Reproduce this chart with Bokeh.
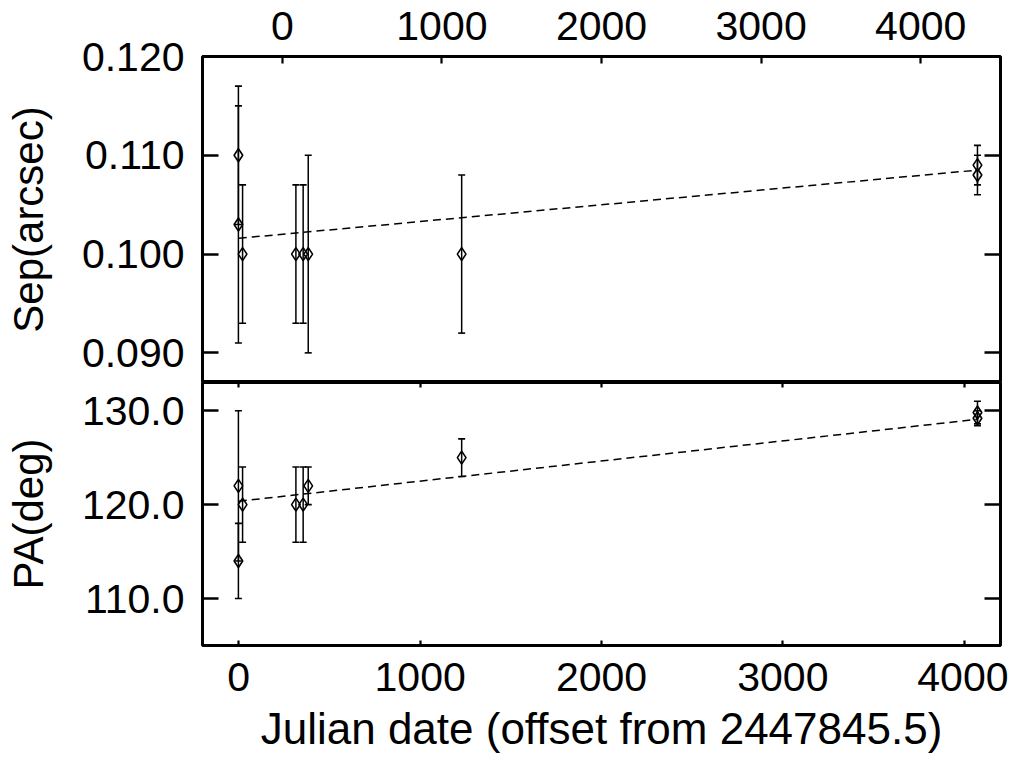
from bokeh.plotting import figure
from bokeh.models import (Range1d, LinearAxis, FixedTicker, Whisker, TeeHead,
                          ColumnDataSource, NumeralTickFormatter)
from bokeh.layouts import column
from bokeh.embed import file_html
from bokeh.resources import INLINE

# ---------------- data ----------------
jd = [-2, -2, 21, 315, 355, 383, 1229, 4073, 4073]          # days from 2447845.5
sep = [0.110, 0.103, 0.100, 0.100, 0.100, 0.100, 0.100, 0.109, 0.108]
sep_err = [0.007, 0.012, 0.007, 0.007, 0.007, 0.010, 0.008, 0.002, 0.002]
pa = [122.0, 114.0, 120.0, 120.0, 120.0, 122.0, 125.0, 129.8, 129.2]
pa_err = [8.0, 4.0, 4.0, 4.0, 4.0, 2.0, 2.0, 1.2, 0.8]

fit_x = [0, 4073]
sep_fit = [0.1016, 0.1085]
pa_fit = [120.36, 129.08]

x_ticks = [0, 1000, 2000, 3000, 4000]
top_ticks = [0, 1000, 2000, 3000, 4000]
sep_ticks = [0.090, 0.100, 0.110, 0.120]
pa_ticks = [110, 120, 130]

x_label = "Julian date (offset from 2447845.5)"
sep_label = "Sep(arcsec)"
pa_label = "PA(deg)"

# ---------------- style ----------------
FONT = "Liberation Sans"
TICK_FS = "41px"
XLAB_FS = "44px"
YLAB_FS = "42px"

src = ColumnDataSource(dict(
    x=jd, sep=sep, pa=pa,
    sep_lo=[s - e for s, e in zip(sep, sep_err)],
    sep_hi=[s + e for s, e in zip(sep, sep_err)],
    pa_lo=[s - e for s, e in zip(pa, pa_err)],
    pa_hi=[s + e for s, e in zip(pa, pa_err)],
))

XMIN, XMAX = -200, 4200
xr = Range1d(XMIN, XMAX)


def base_fig(yr, fh, mbt, mbb):
    p = figure(frame_width=798, frame_height=fh, x_range=xr, y_range=yr,
               min_border_left=202, min_border_right=8,
               min_border_top=mbt, min_border_bottom=mbb,
               x_axis_location=None, y_axis_location=None,
               output_backend="svg", toolbar_location=None)
    p.grid.visible = False
    p.outline_line_color = "black"
    p.outline_line_width = 3
    p.background_fill_color = "white"
    p.border_fill_color = "white"
    return p


def style_axis(ax, tick_in, tick_w):
    ax.axis_line_color = None
    ax.major_tick_in = tick_in
    ax.major_tick_out = 0
    ax.major_tick_line_width = tick_w
    ax.major_tick_line_color = "black"
    ax.minor_tick_line_color = None
    ax.major_label_text_font = FONT
    ax.major_label_text_font_size = TICK_FS
    ax.major_label_text_color = "black"
    ax.axis_label_text_font = FONT
    ax.axis_label_text_font_style = "normal"
    ax.axis_label_text_color = "black"


def add_errorbars(p, lo, hi):
    p.add_layout(Whisker(source=src, base="x", lower=lo, upper=hi,
                         dimension="height", line_width=1.5, line_color="black",
                         lower_head=TeeHead(size=7, line_width=1.6, line_color="black"),
                         upper_head=TeeHead(size=7, line_width=1.6, line_color="black")))


# ---------------- top panel ----------------
SEP_MIN, SEP_MAX = 0.087, 0.120
p1 = base_fig(Range1d(SEP_MIN, SEP_MAX), 326, 56, 0)
p1.extra_x_ranges = {"top": Range1d(-500, 4500)}

ax_top = LinearAxis(x_range_name="top",
                    ticker=FixedTicker(ticks=top_ticks),
                    formatter=NumeralTickFormatter(format="0"))
style_axis(ax_top, 7, 2.2)
ax_top.major_label_standoff = 17
p1.add_layout(ax_top, "above")

ax_l1 = LinearAxis(ticker=FixedTicker(ticks=sep_ticks),
                   formatter=NumeralTickFormatter(format="0.000"),
                   axis_label=sep_label)
style_axis(ax_l1, 16, 2.7)
ax_l1.major_label_standoff = 18
ax_l1.axis_label_text_font_size = YLAB_FS
ax_l1.axis_label_standoff = 27
p1.add_layout(ax_l1, "left")

ax_r1 = LinearAxis(fixed_location=XMAX, ticker=FixedTicker(ticks=sep_ticks))
style_axis(ax_r1, 16, 2.7)
ax_r1.major_label_text_color = None
p1.add_layout(ax_r1, "right")

add_errorbars(p1, "sep_lo", "sep_hi")
p1.line(fit_x, sep_fit, line_color="black", line_width=1.5, line_dash="8 5")
p1.scatter("x", "sep", source=src, marker="diamond", size=13,
           fill_color=None, line_color="black", line_width=1.6)

# ---------------- bottom panel ----------------
PA_MIN, PA_MAX = 105.0, 133.0
p2 = base_fig(Range1d(PA_MIN, PA_MAX), 263, 0, 10)

ax_t2 = LinearAxis(fixed_location=PA_MAX, ticker=FixedTicker(ticks=x_ticks))
style_axis(ax_t2, 5, 2.2)
ax_t2.major_label_text_color = None
p2.add_layout(ax_t2, "above")

ax_b2 = LinearAxis(ticker=FixedTicker(ticks=x_ticks),
                   formatter=NumeralTickFormatter(format="0"),
                   axis_label=x_label)
style_axis(ax_b2, 5, 2.2)
ax_b2.major_label_standoff = 17
ax_b2.axis_label_text_font_size = XLAB_FS
ax_b2.axis_label_standoff = 10
p2.add_layout(ax_b2, "below")

ax_l2 = LinearAxis(ticker=FixedTicker(ticks=pa_ticks),
                   formatter=NumeralTickFormatter(format="0.0"),
                   axis_label=pa_label)
style_axis(ax_l2, 16, 2.7)
ax_l2.major_label_standoff = 18
ax_l2.axis_label_text_font_size = YLAB_FS
ax_l2.axis_label_standoff = 27
p2.add_layout(ax_l2, "left")

ax_r2 = LinearAxis(fixed_location=XMAX, ticker=FixedTicker(ticks=pa_ticks))
style_axis(ax_r2, 16, 2.7)
ax_r2.major_label_text_color = None
p2.add_layout(ax_r2, "right")

add_errorbars(p2, "pa_lo", "pa_hi")
p2.line(fit_x, pa_fit, line_color="black", line_width=1.5, line_dash="8 5")
p2.scatter("x", "pa", source=src, marker="diamond", size=13,
           fill_color=None, line_color="black", line_width=1.6)

layout = column(p1, p2, spacing=0)
open("out.html", "w").write(file_html(layout, INLINE))
